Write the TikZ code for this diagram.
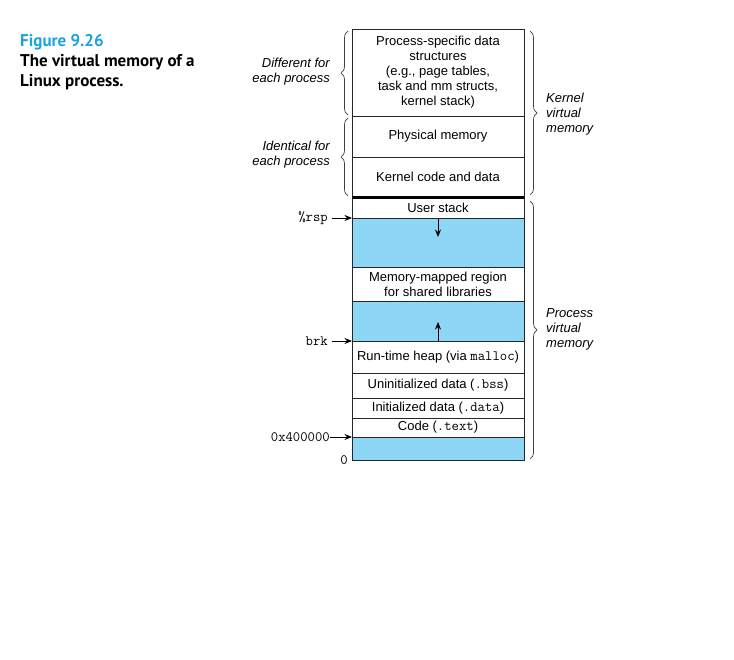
\documentclass[tikz,border=0pt]{standalone}
\usepackage{fontspec}
\setmainfont{Liberation Sans}
\setmonofont{Latin Modern Mono}[Scale=1.1]
\newfontfamily\capfont{PT Sans}
\usetikzlibrary{arrows.meta,decorations.pathreplacing}
\definecolor{figblue}{RGB}{28,164,222}
\definecolor{freeblue}{RGB}{141,214,246}
\tikzset{
  area/.style={draw=black!85,line width=0.8pt,minimum width=172pt,inner sep=0pt,outer sep=0pt,
    anchor=north west,align=center,font=\fontsize{13}{15}\selectfont},
  freearea/.style={area,fill=freeblue},
  sidebrace/.style={decorate,decoration={brace,amplitude=7pt},draw=black!75,line width=0.7pt},
  sidetext/.style={font=\fontsize{13}{15}\selectfont\itshape,inner sep=0pt},
  addr/.style={font=\fontsize{13}{15}\selectfont\ttfamily,anchor=east,inner sep=0pt},
  captext/.style={anchor=base west,inner sep=0pt,font=\capfont\bfseries\fontsize{17}{20}\selectfont},
  ptrarrow/.style={->,line width=1pt},
}
\begin{document}
\begin{tikzpicture}[x=1pt,y=-1pt,>={Stealth[length=7.5pt,width=6pt]}]
    \useasboundingbox (0,0) rectangle (734,659);
    % caption
    \node[captext,text=figblue] (fignum) at (20,46) {Figure 9.26};
    \node[captext] (capone) at (20,66) {The virtual memory of a};
    \node[captext] (captwo) at (20,86) {Linux process.};
    % kernel part
    \node[area,minimum height=87pt] (kdata) at (352,29)
        {Process-specific data\\structures\\(e.g., page tables,\\task and mm structs,\\kernel stack)};
    \node[area,minimum height=41pt] (phys) at (kdata.south west) {Physical memory};
    \node[area,minimum height=40pt] (kcode) at (phys.south west) {Kernel code and data};
    % process part
    \node[area,minimum height=21pt] (ustack) at (kcode.south west) {User stack};
    \node[freearea,minimum height=49pt] (gapa) at (ustack.south west) {};
    \node[area,minimum height=34pt] (mmap) at (gapa.south west) {Memory-mapped region\\for shared libraries};
    \node[freearea,minimum height=40pt] (gapb) at (mmap.south west) {};
    \node[area,minimum height=32pt] (heap) at (gapb.south west) {Run-time heap (via \texttt{malloc})};
    \node[area,minimum height=25pt] (bss) at (heap.south west) {Uninitialized data (\texttt{.bss})};
    \node[area,minimum height=20pt] (idata) at (bss.south west) {Initialized data (\texttt{.data})};
    \node[area,minimum height=19pt] (code) at (idata.south west) {Code (\texttt{.text})};
    \node[freearea,minimum height=23pt] (gapc) at (code.south west) {};
    \draw[line width=3pt] (kcode.south west) -- (kcode.south east);
    % growth arrows
    \draw[ptrarrow] (gapa.north) -- ++(0,19);
    \draw[ptrarrow] (gapb.south) -- ++(0,-19);
    % addresses
    \node[addr] (rsp) at (328,218) {\%rsp};
    \node[addr] (brk) at (328,341) {brk};
    \node[addr] (start) at (330,437) {0x400000};
    \node[addr] (zero) at (348,460) {0};
    \draw[ptrarrow] (rsp.east) ++(4,0) -- (gapa.north west);
    \draw[ptrarrow] (brk.east) ++(4,0) -- (heap.north west);
    \draw[ptrarrow] (start.east) -- (gapc.north west);
    % braces
    \draw[sidebrace] (348,115) -- (348,31);
    \draw[sidebrace] (348,196) -- (348,118);
    \draw[sidebrace] (530,31) -- (530,195);
    \draw[sidebrace] (530,201) -- (530,459);
    \node[sidetext,anchor=east,align=right] (diff) at (330,72) {Different for\\each process};
    \node[sidetext,anchor=east,align=right] (same) at (330,155) {Identical for\\each process};
    \node[sidetext,anchor=west,align=left] (kvm) at (546,114) {Kernel\\virtual\\memory};
    \node[sidetext,anchor=west,align=left] (pvm) at (546,329) {Process\\virtual\\memory};
\end{tikzpicture}
\end{document}
